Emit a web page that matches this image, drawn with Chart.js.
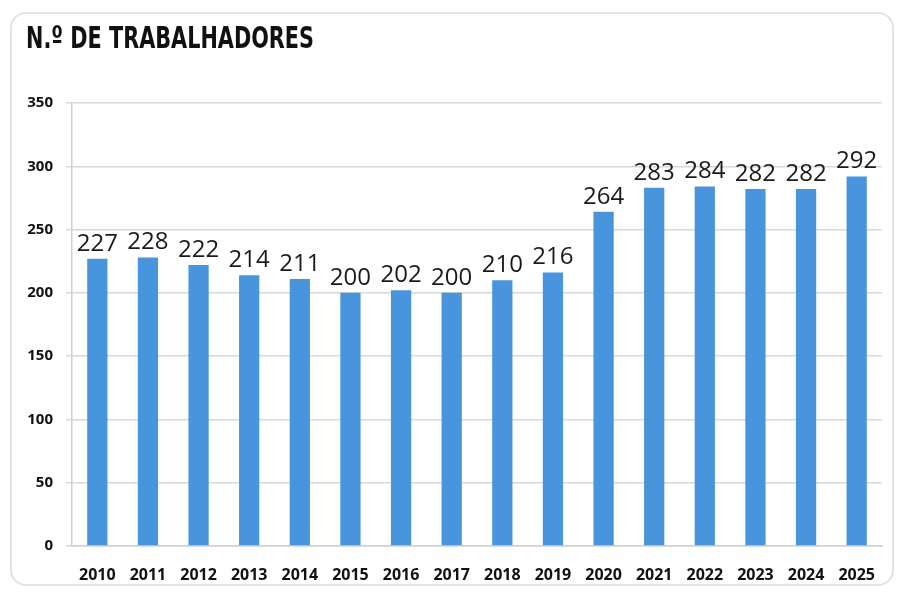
<!DOCTYPE html>
<html>
<head>
<meta charset="utf-8">
<script src="https://cdn.jsdelivr.net/npm/chart.js@4.4.1/dist/chart.umd.min.js"></script>
<style>
  html, body { margin: 0; padding: 0; background: #fff; }
  #wrap { position: relative; width: 902px; height: 594px; }
  #frame {
    position: absolute; left: 10px; top: 12px; width: 884px; height: 574px;
    border: 2px solid #e2e2e2; border-radius: 16px; box-sizing: border-box;
  }
  #graficoTrabalhadores { position: absolute; left: 0; top: 0; }
</style>
</head>
<body>
<div id="wrap">
  <div id="frame"></div>
  <canvas id="graficoTrabalhadores" width="902" height="594"></canvas>
</div>
<script>
const titulo = "N.º DE TRABALHADORES";
const anos = ["2010", "2011", "2012", "2013", "2014", "2015", "2016", "2017",
              "2018", "2019", "2020", "2021", "2022", "2023", "2024", "2025"];
const trabalhadores = [227, 228, 222, 214, 211, 200, 202, 200,
                       210, 216, 264, 283, 284, 282, 282, 292];
const ticksY = [0, 50, 100, 150, 200, 250, 300, 350];

// título estreito, em letra condensada
const tituloCondensado = {
  id: "tituloCondensado",
  afterDraw(chart) {
    const ctx = chart.ctx;
    ctx.save();
    ctx.fillStyle = "#111";
    ctx.font = "bold 31px 'DejaVu Sans Condensed', 'DejaVu Sans', sans-serif";
    ctx.textBaseline = "alphabetic";
    const largura = ctx.measureText(titulo).width;
    ctx.translate(26, 48);
    ctx.scale(288 / largura, 1);
    ctx.fillText(titulo, 0, 0);
    ctx.restore();
  }
};

// valores por cima das barras
const rotulosBarras = {
  id: "rotulosBarras",
  afterDatasetsDraw(chart) {
    const ctx = chart.ctx;
    const meta = chart.getDatasetMeta(0);
    ctx.save();
    ctx.fillStyle = "#1a1a1a";
    ctx.font = "500 24px 'Open Sans', sans-serif";
    ctx.textAlign = "center";
    ctx.textBaseline = "bottom";
    meta.data.forEach((bar, i) => {
      ctx.fillText(String(chart.data.datasets[0].data[i]), bar.x, bar.y - 3);
    });
    ctx.restore();
  }
};

const ctxTrab = document.getElementById("graficoTrabalhadores").getContext("2d");
new Chart(ctxTrab, {
  type: "bar",
  data: {
    labels: anos,
    datasets: [{
      label: "N.º de trabalhadores",
      data: trabalhadores,
      backgroundColor: "#4895de",
      borderWidth: 0,
      categoryPercentage: 1,
      barPercentage: 0.4
    }]
  },
  options: {
    responsive: false,
    animation: false,
    layout: { padding: { left: 20, right: 20, top: 103, bottom: 0 } },
    plugins: {
      legend: { display: false },
      tooltip: { enabled: false }
    },
    scales: {
      y: {
        min: 0,
        max: 350,
        afterBuildTicks: scale => { scale.ticks = ticksY.map(v => ({ value: v })); },
        afterFit: scale => { scale.width = 52; },
        grid: { color: "#d8d8d8", lineWidth: 1.5, tickLength: 6 },
        border: { color: "#cfcfcf", width: 1.5 },
        ticks: {
          color: "#111",
          padding: 13,
          font: { family: "'Open Sans', sans-serif", size: 15, weight: "bold" }
        }
      },
      x: {
        afterFit: scale => { scale.height = 48; },
        grid: { display: false },
        border: { color: "#cfcfcf", width: 1.5 },
        ticks: {
          color: "#111",
          padding: 12,
          maxRotation: 0,
          font: { family: "'Open Sans', sans-serif", size: 16, weight: "bold" }
        }
      }
    }
  },
  plugins: [rotulosBarras, tituloCondensado]
});
</script>
</body>
</html>
